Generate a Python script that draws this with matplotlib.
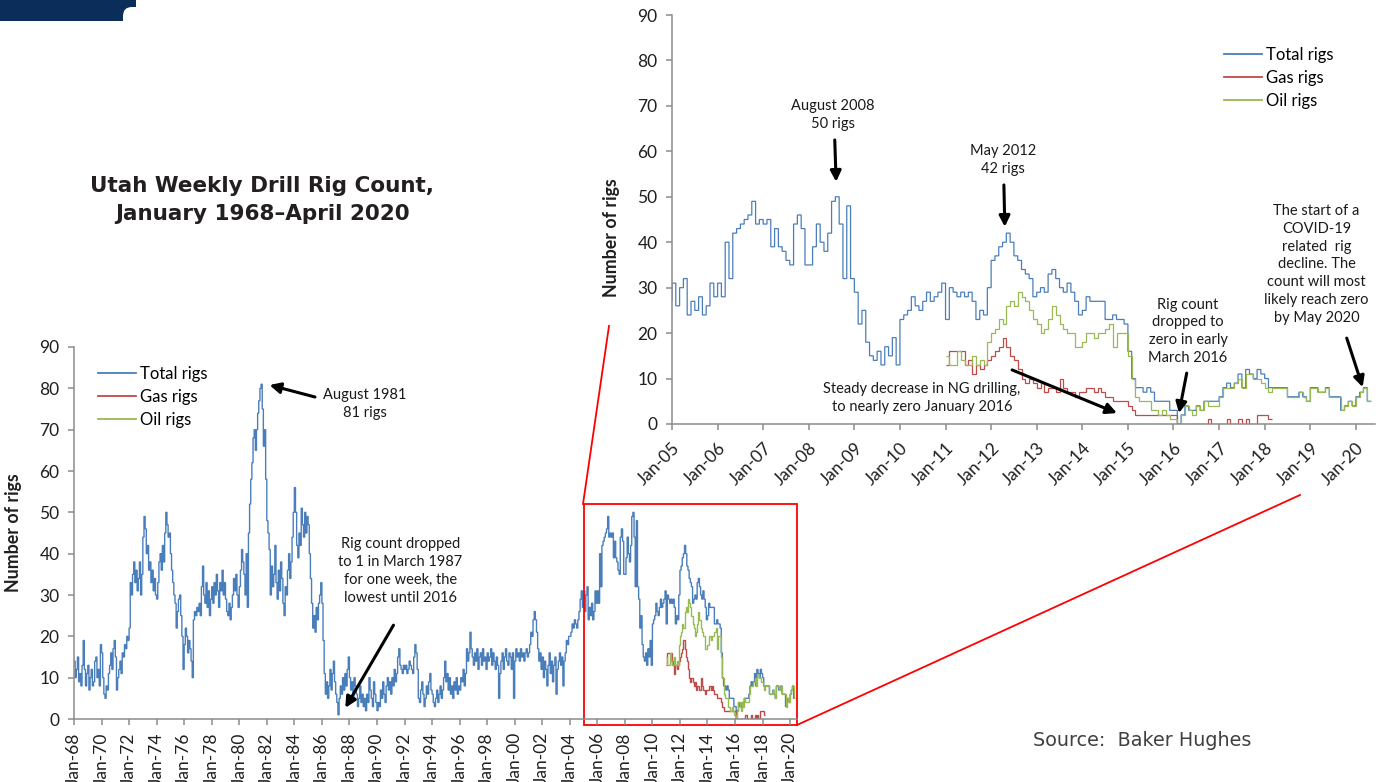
import numpy as np
import matplotlib.pyplot as plt
from matplotlib.lines import Line2D
from matplotlib.patches import Rectangle, FancyBboxPatch
from matplotlib.transforms import IdentityTransform

plt.rcParams['font.family'] = ['Lato', 'DejaVu Sans']

# Utah rig counts, monthly readings taken off the chart (Jan 1968 - Apr 2020)
total_1968_1989 = [
    14, 10, 12, 15, 9, 11, 8, 13, 19, 12, 8, 11,
    13, 7, 10, 12, 8, 9, 14, 15, 10, 12, 8, 18,
    16, 10, 6, 5, 8, 7, 11, 13, 16, 12, 17, 19,
    15, 7, 10, 12, 14, 11, 16, 15, 18, 17, 20, 19,
    22, 33, 30, 35, 38, 33, 36, 31, 34, 38, 30, 35,
    44, 49, 46, 40, 42, 36, 38, 33, 36, 31, 34, 30,
    29, 33, 38, 40, 36, 42, 38, 45, 50, 47, 44, 45,
    40, 36, 33, 30, 28, 22, 26, 29, 30, 25, 20, 12,
    18, 22, 20, 16, 19, 17, 14, 10, 24, 26, 25, 27,
    26, 28, 25, 32, 37, 30, 28, 33, 27, 31, 25, 29,
    32, 28, 33, 30, 35, 31, 27, 33, 31, 36, 30, 33,
    29, 26, 25, 28, 24, 27, 30, 34, 31, 35, 30, 27,
    32, 36, 41, 38, 35, 30, 40, 27, 45, 52, 58, 62,
    68, 70, 65, 70, 74, 77, 80, 81, 75, 66, 70, 58,
    48, 45, 41, 30, 37, 32, 35, 42, 33, 29, 36, 31,
    38, 34, 28, 25, 32, 30, 36, 40, 34, 38, 44, 50,
    56, 50, 42, 39, 45, 42, 51, 47, 44, 50, 45, 49,
    47, 40, 34, 28, 22, 25, 21, 27, 24, 28, 30, 33,
    28, 19, 11, 6, 9, 5, 8, 12, 7, 11, 14, 9,
    6, 4, 1, 5, 8, 6, 10, 7, 11, 8, 12, 15,
    10, 7, 9, 5, 10, 8, 6, 3, 5, 8, 4, 6,
    3, 5, 2, 6, 4, 10, 7, 5, 3, 9, 6, 4,
]
total_1990_2004 = [
    2, 4, 3, 7, 5, 9, 6, 4, 8, 10, 7, 9,
    6, 10, 8, 12, 9, 11, 15, 17, 13, 12, 11, 13,
    12, 13, 11, 12, 14, 13, 12, 11, 15, 18, 16, 12,
    5, 4, 7, 9, 6, 3, 5, 8, 6, 9, 11, 7,
    6, 4, 3, 5, 7, 4, 6, 8, 5, 7, 10, 14,
    9, 11, 7, 10, 6, 8, 5, 9, 7, 10, 6, 8,
    7, 10, 9, 12, 8, 11, 17, 14, 16, 21, 17, 15,
    13, 16, 14, 17, 12, 15, 16, 13, 17, 14, 15, 12,
    16, 14, 15, 17, 13, 16, 14, 12, 15, 13, 5, 11,
    14, 16, 12, 15, 17, 14, 13, 16, 15, 12, 16, 5,
    14, 17, 15, 16, 14, 17, 15, 16, 14, 16, 17, 15,
    16, 18, 21, 20, 24, 26, 24, 21, 17, 14, 16, 12,
    15, 10, 14, 12, 8, 13, 16, 11, 14, 9, 13, 15,
    6, 12, 14, 16, 13, 15, 8, 14, 16, 19, 18, 20,
    20, 21, 23, 22, 24, 23, 22, 24, 26, 29, 31, 27,
]
total_2005_2020 = [
    31, 26, 30, 32, 24, 27, 25, 28, 24, 26, 31, 28,
    31, 28, 40, 32, 42, 43, 44, 45, 46, 49, 44, 45,
    44, 45, 39, 43, 39, 38, 36, 35, 44, 46, 43, 35,
    35, 39, 44, 40, 38, 42, 49, 50, 44, 32, 48, 32,
    29, 22, 25, 18, 15, 14, 16, 13, 17, 15, 19, 13,
    23, 24, 25, 28, 26, 25, 27, 29, 27, 28, 29, 31,
    23, 30, 29, 28, 29, 28, 29, 27, 23, 25, 24, 30,
    36, 37, 39, 40, 42, 40, 37, 36, 34, 33, 32, 28,
    29, 30, 29, 33, 34, 32, 30, 29, 31, 29, 27, 24,
    25, 28, 27, 27, 27, 27, 23, 23, 24, 23, 23, 22,
    16, 10, 8, 8, 7, 8, 7, 5, 5, 5, 5, 3,
    3, 0, 2, 4, 3, 3, 4, 3, 5, 5, 5, 5,
    6, 8, 9, 8, 9, 11, 8, 12, 11, 10, 12, 11,
    10, 8, 8, 8, 8, 8, 6, 6, 6, 7, 6, 5,
    8, 8, 7, 7, 8, 6, 6, 6, 3, 4, 5, 4,
    6, 7, 8, 5,
]
gas_2011_2018 = [
    13, 16, 16, 16, 16, 13, 14, 11, 13, 12, 13, 14,
    15, 16, 17, 19, 17, 15, 14, 12, 10, 9, 10, 9,
    8, 9, 7, 8, 8, 7, 10, 8, 7, 7, 6, 7,
    7, 8, 8, 7, 8, 7, 6, 6, 5, 5, 5, 5,
    4, 3, 2, 2, 2, 2, 2, 2, 2, 2, 2, 2,
    2, 0, 0, 0, 0, 0, 0, 0, 0, 1, 0, 0,
    0, 0, 1, 0, 0, 1, 0, 1, 0, 0, 2, 2,
    2, 1,
]
oil_2011_2020 = [
    15, 13, 13, 16, 14, 13, 13, 15, 13, 14, 13, 18,
    20, 21, 23, 22, 26, 27, 26, 29, 28, 27, 25, 23,
    22, 20, 21, 23, 26, 24, 22, 21, 20, 20, 17, 17,
    18, 20, 20, 19, 20, 20, 21, 22, 17, 20, 20, 20,
    15, 10, 6, 5, 5, 5, 3, 3, 2, 3, 2, 1,
    1, 0, 2, 4, 3, 2, 4, 3, 5, 4, 4, 4,
    6, 8, 8, 8, 9, 10, 8, 11, 11, 10, 10, 9,
    8, 7, 8, 8, 8, 8, 6, 6, 6, 7, 6, 5,
    8, 8, 7, 7, 8, 6, 6, 6, 3, 4, 5, 4,
    6, 7, 8, 5,
]

total = np.array(total_1968_1989 + total_1990_2004 + total_2005_2020, float)
gas = np.array(gas_2011_2018, float)
oil = np.array(oil_2011_2020, float)
total_edges = 1968 + np.arange(len(total) + 1) / 12
gas_edges = 2011 + np.arange(len(gas) + 1) / 12
oil_edges = 2011 + np.arange(len(oil) + 1) / 12

c_total, c_gas, c_oil = '#4a7ebb', '#be4b48', '#98b954'
spine_c = '#8c8c8c'

W, H = 1382, 782
fig = plt.figure(figsize=(W / 100, H / 100), dpi=100)


def fx(px):
    return px / W


def fy(py):
    return 1 - py / H


ax = fig.add_axes([fx(74), fy(719), fx(797) - fx(74), fy(347) - fy(719)])
ax2 = fig.add_axes([fx(672), fy(424), fx(1375) - fx(672), fy(15) - fy(424)])


def style(a):
    a.set_facecolor('none')
    for s in ['top', 'right']:
        a.spines[s].set_visible(False)
    for s in ['left', 'bottom']:
        a.spines[s].set_color(spine_c)
        a.spines[s].set_linewidth(1.1)
    a.tick_params(colors=spine_c, labelcolor='#1f1f1f', labelsize=12.5,
                  length=4.5, width=1.1)
    a.tick_params(axis='y', pad=6)
    a.set_ylim(0, 90)
    a.set_yticks(range(0, 91, 10))


for a, lw in [(ax, 1.0), (ax2, 0.9)]:
    style(a)
    a.stairs(total, total_edges, baseline=None, color=c_total, lw=lw)
    a.stairs(gas, gas_edges, baseline=None, color=c_gas, lw=lw)
    a.stairs(oil, oil_edges, baseline=None, color=c_oil, lw=lw)
    a.set_ylabel('Number of rigs', fontsize=12.8, fontweight='bold', color='#1f1f1f')

# main chart
ax.set_xlim(1968, 2020.5)
main_years = list(range(1968, 2021, 2))
ax.set_xticks(main_years)
ax.set_xticklabels([f'Jan-{y % 100:02d}' for y in main_years], rotation=90)
ax.tick_params(axis='x', pad=5)
ax.yaxis.set_label_coords(-0.072, 0.5)

# zoomed chart
ax2.set_xlim(2005, 2020.42)
inset_years = list(range(2005, 2021))
ax2.set_xticks(inset_years)
ax2.set_xticklabels([f'Jan-{y % 100:02d}' for y in inset_years], rotation=45,
                    ha='right', rotation_mode='anchor')
ax2.tick_params(axis='x', pad=7)
ax2.yaxis.set_label_coords(-0.074, 0.456)

handles = [Line2D([], [], color=c, lw=1.3) for c in (c_total, c_gas, c_oil)]
labels = ['Total rigs', 'Gas rigs', 'Oil rigs']
for a, anchor in [(ax, (0.033, 0.95)), (ax2, (0.785, 0.922))]:
    a.legend(handles, labels, loc='upper left', bbox_to_anchor=anchor, frameon=False,
             fontsize=12, handlelength=2.3, handletextpad=0.2, labelspacing=0.42,
             borderpad=0, borderaxespad=0)

arrow = dict(arrowstyle='-|>', color='black', lw=2.2, mutation_scale=16,
             shrinkA=0, shrinkB=0)
txt = dict(ha='center', va='center', fontsize=10.5, color='#1a1a1a', linespacing=1.35)

ax.annotate('', xy=(1982.2, 80.8), xytext=(1985.5, 77.9), arrowprops=arrow,
            annotation_clip=False)
ax.text(1989.1, 76.3, 'August 1981\n81 rigs', **txt)
ax.annotate('', xy=(1987.7, 2.7), xytext=(1991.2, 22.7), arrowprops=arrow,
            annotation_clip=False)
ax.text(1991.7, 35.8, 'Rig count dropped\nto 1 in March 1987\nfor one week, the\nlowest until 2016',
        **txt)

ax2.annotate('', xy=(2008.6, 53.3), xytext=(2008.57, 62.5), arrowprops=arrow)
ax2.text(2008.53, 68, 'August 2008\n50 rigs', **txt)
ax2.annotate('', xy=(2012.3, 43.4), xytext=(2012.28, 52.6), arrowprops=arrow)
ax2.text(2012.26, 58.1, 'May 2012\n42 rigs', **txt)
ax2.annotate('', xy=(2014.76, 2.4), xytext=(2012.46, 11.9), arrowprops=arrow)
ax2.text(2010.48, 5.8, 'Steady decrease in NG drilling,\nto nearly zero January 2016', **txt)
ax2.annotate('', xy=(2016.12, 2.4), xytext=(2016.29, 11.2), arrowprops=arrow)
ax2.text(2016.32, 20.4, 'Rig count\ndropped to\nzero in early\nMarch 2016', **txt)
ax2.annotate('', xy=(2020.15, 8.1), xytext=(2019.8, 18.9), arrowprops=arrow)
ax2.text(2019.14, 35.1, 'The start of a\nCOVID-19\nrelated  rig\ndecline. The\ncount will most\n'
         'likely reach zero\nby May 2020', **txt)

# zoom box and connectors
ax.add_patch(Rectangle((2005, -1.45), 15.5, 53.45, fill=False, ec='#ff0000', lw=1.3,
                       clip_on=False))
for (x0, y0), (x1, y1) in [((583, 504), (609, 326)), ((797, 725), (1300, 495))]:
    fig.add_artist(Line2D([fx(x0), fx(x1)], [fy(y0), fy(y1)], transform=fig.transFigure,
                          color='#ff0000', lw=1.3))

# header tab
fig.add_artist(Rectangle((0, fy(21)), fx(136), fy(0) - fy(21), transform=fig.transFigure,
                         color='#0b2d5a', lw=0))
fig.add_artist(FancyBboxPatch((123, H - 60), 60, 53, boxstyle='round,pad=0,rounding_size=9',
                              transform=IdentityTransform(), fc='white', ec='none'))

fig.text(fx(262), fy(200), 'Utah Weekly Drill Rig Count,\nJanuary 1968\u2013April 2020',
         ha='center', va='center', fontsize=15.5, fontweight='bold', color='#231f20',
         family='DejaVu Sans', linespacing=1.5)
fig.text(fx(1033), fy(741), 'Source:  Baker Hughes', ha='left', va='center',
         fontsize=13.8, color='#404040', family='DejaVu Sans')

fig.savefig('out.png', dpi=100)
